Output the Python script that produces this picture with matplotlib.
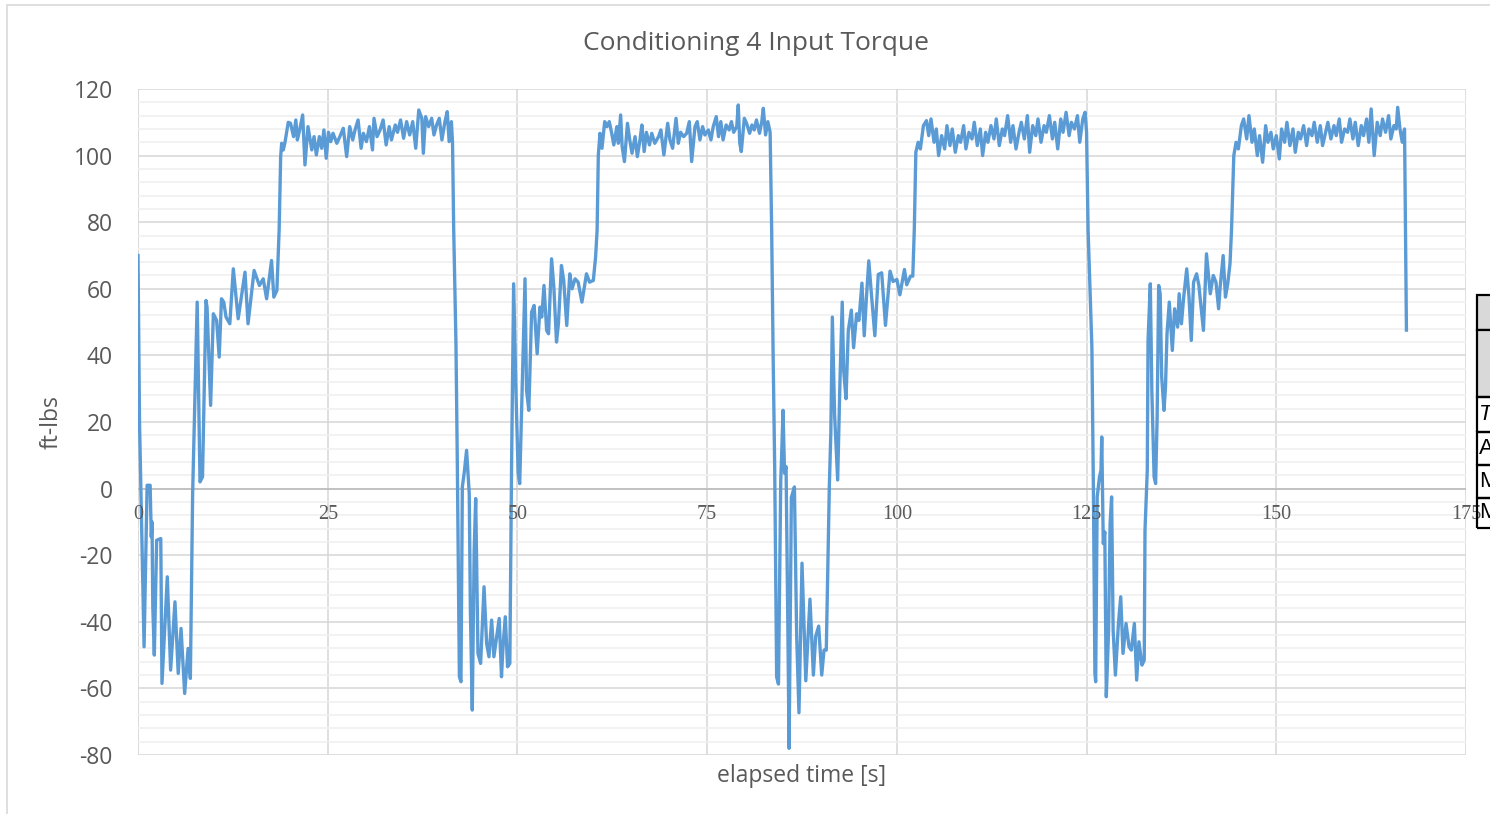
import matplotlib.pyplot as plt
from matplotlib.patches import Rectangle
from matplotlib.ticker import MultipleLocator

# logged input torque, one row per sample: elapsed time [s] and torque [ft-lbs]
elapsed_s = [
    # cycle 1: release, reverse swing, partial load
    0.0, 0.2, 0.8, 1.2, 1.6, 1.75, 1.85, 1.95, 2.15, 2.46, 3.0, 3.16, 3.86, 4.3, 4.87,
    5.3, 5.67, 6.15, 6.6, 6.9, 7.2, 7.5, 7.8, 8.17, 8.5, 8.96, 9.1, 9.57, 9.93, 10.36,
    10.7, 11.0, 11.3, 11.6, 12.1, 12.56, 13.2, 14.1, 14.5, 15.3, 16.0, 16.5, 16.95,
    17.6, 17.9, 18.3, 18.6,
    # cycle 1: full load
    18.8, 18.93, 19.15, 19.37, 19.8, 20.1, 20.5, 20.8, 21.0, 21.3, 21.7, 22.0, 22.4,
    22.9, 23.2, 23.5, 23.9, 24.2, 24.5, 24.8, 25.1, 25.4, 25.7, 26.2, 26.6, 27.05,
    27.5, 27.9, 28.3, 28.6, 29.0, 29.4, 29.7, 30.1, 30.5, 30.9, 31.1, 31.5, 31.9,
    32.3, 32.7, 33.1, 33.4, 33.9, 34.2, 34.6, 35.0, 35.4, 35.8, 36.2, 36.6, 37.0,
    37.4, 37.6, 37.9, 38.3, 38.7, 39.0, 39.35, 39.7, 40.05, 40.45, 40.75, 41.0,
    41.3, 41.45,
    # cycle 2: release, reverse swing, partial load
    41.6, 41.9, 42.08, 42.35, 42.56, 42.74, 43.0, 43.3, 43.65, 43.8, 44.05, 44.3,
    44.5, 44.8, 45.15, 45.6, 45.94, 46.25, 46.6, 46.9, 47.26, 47.6, 47.9, 48.1, 48.4,
    48.7, 49.0, 49.23, 49.5, 49.8, 50.1, 50.3, 50.6, 51.0, 51.2, 51.5, 51.87, 52.2,
    52.6, 52.97, 53.2, 53.5, 53.85, 54.1, 54.5, 54.8, 55.15, 55.4, 55.8, 56.1, 56.5,
    56.9, 57.2, 57.6, 58.0, 58.5, 59.1, 59.5, 60.0, 60.3, 60.5,
    # cycle 2: full load
    60.66, 60.88, 61.14, 61.5, 61.8, 62.1, 62.4, 62.7, 63.1, 63.3, 63.6, 63.8, 64.1,
    64.5, 64.8, 65.1, 65.5, 65.8, 66.15, 66.4, 66.7, 67.0, 67.4, 67.7, 68.1, 68.6,
    68.9, 69.3, 69.8, 70.1, 70.45, 70.9, 71.2, 71.5, 71.9, 72.3, 72.65, 72.96, 73.4,
    73.7, 74.05, 74.4, 74.7, 75.15, 75.5, 75.8, 76.2, 76.5, 76.8, 77.1, 77.5, 77.9,
    78.2, 78.5, 78.9, 79.1, 79.3, 79.5, 79.9, 80.2, 80.6, 80.9, 81.2, 81.5, 81.9,
    82.2, 82.4, 82.7, 83.0, 83.3,
    # cycle 3: release, reverse swing, partial load
    83.5, 83.7, 83.9, 84.16, 84.4, 84.7, 84.8, 85.0, 85.2, 85.4, 85.6, 85.8, 86.1,
    86.5, 86.8, 87.1, 87.5, 88.0, 88.55, 89.0, 89.3, 89.7, 90.1, 90.4, 90.7, 91.1,
    91.3, 91.5, 91.8, 92.2, 92.5, 92.8, 93.0, 93.3, 93.6, 94.0, 94.3, 94.7, 95.0,
    95.4, 95.7, 96.0, 96.3, 96.6, 97.1, 97.55, 98.0, 98.5, 99.1, 99.5, 100.0, 100.4,
    101.0, 101.3, 101.8, 102.1, 102.3,
    # cycle 3: full load
    102.5, 102.8, 103.1, 103.5, 103.9, 104.2, 104.5, 104.9, 105.2, 105.5, 105.9,
    106.3, 106.6, 107.0, 107.3, 107.7, 108.1, 108.4, 108.8, 109.1, 109.5, 109.9,
    110.2, 110.6, 111.0, 111.3, 111.7, 112.0, 112.4, 112.8, 113.1, 113.5, 113.9,
    114.2, 114.6, 115.0, 115.3, 115.7, 116.1, 116.4, 116.8, 117.2, 117.5, 117.9,
    118.3, 118.6, 119.0, 119.4, 119.7, 120.1, 120.5, 120.8, 121.2, 121.6, 121.9,
    122.3, 122.7, 123.0, 123.4, 123.8, 124.1, 124.5, 124.8, 125.0,
    # cycle 4: release, reverse swing, partial load
    125.2, 125.7, 125.9, 126.1, 126.2, 126.4, 126.7, 126.9, 127.0, 127.2, 127.4,
    127.6, 127.9, 128.1, 128.3, 128.5, 128.8, 129.2, 129.5, 129.8, 130.2, 130.6,
    130.9, 131.3, 131.6, 131.9, 132.3, 132.6, 132.7, 133.0, 133.1, 133.4, 133.6,
    133.9, 134.1, 134.3, 134.5, 134.7, 134.9, 135.2, 135.4, 135.6, 135.9, 136.3,
    136.6, 137.0, 137.2, 137.5, 137.8, 138.2, 138.5, 138.8, 139.1, 139.5, 139.8,
    140.4, 140.8, 141.3, 141.7, 142.05, 142.4, 142.6, 143.0, 143.3, 143.6, 143.9,
    144.1,
    # cycle 4: full load, then logging stops
    144.4, 144.7, 145.0, 145.4, 145.7, 146.1, 146.4, 146.8, 147.1, 147.5, 147.8,
    148.2, 148.6, 148.9, 149.3, 149.6, 150.0, 150.4, 150.7, 151.1, 151.4, 151.8,
    152.2, 152.5, 152.9, 153.2, 153.6, 154.0, 154.3, 154.7, 155.0, 155.4, 155.8,
    156.1, 156.5, 156.8, 157.2, 157.6, 157.9, 158.3, 158.6, 159.0, 159.4, 159.7,
    160.1, 160.4, 160.8, 161.2, 161.5, 161.9, 162.2, 162.5, 162.9, 163.3, 163.7,
    164.0, 164.4, 164.8, 165.1, 165.5, 165.8, 166.0, 166.3, 166.6, 166.9, 167.15,
]

torque_ftlb = [
    # cycle 1: release, reverse swing, partial load
    70, 20, -47.5, 1, 1, -14.5, -10, -35.5, -50, -15.5, -15, -58.5, -26.5, -54.5, -34,
    -55.5, -42, -61.5, -48, -57, -1.5, 27.5, 56, 2, 3.5, 56.5, 54.5, 25, 52.5, 50.5,
    39.5, 57, 56, 51.5, 49.5, 66, 51, 65, 49.5, 65.5, 61, 63, 57,
    68.5, 57.5, 59.5, 77.7,
    # cycle 1: full load
    99.7, 103.7, 101.7, 104, 110, 109.7, 105.7, 110.7, 104.7, 107.7, 112.2, 97.2, 108.7,
    101.7, 105.7, 100.2, 105.7, 102.2, 107.7, 99.2, 107, 104.2, 106.7, 103.7, 105.7, 108.2,
    99.7, 108.7, 104.7, 107.7, 110.7, 102.2, 106.7, 104.2, 108.7, 101.7, 111.2, 105.7, 107.7,
    110.7, 103.2, 108.7, 104.7, 109.2, 107, 110.7, 105.2, 110.2, 106.2, 110.2, 102.2, 113.7,
    111.2, 100.7, 111.7, 108.7, 111.2, 106.2, 109.2, 111.2, 104.7, 110.2, 113.2, 104.2,
    110.2, 103.7,
    # cycle 2: release, reverse swing, partial load
    78, 43.5, 7.5, -56.5, -58, 0.5, 5, 11.5, -1.5, -36.5, -66.5, -18.5,
    -3, -49.5, -52.5, -29.5, -46.5, -50.5, -39.5, -50.5, -44.5, -39, -56.5, -47.5, -38.5,
    -53.5, -52.5, 7.5, 61.5, 29.5, 4.5, 1.5, 27.5, 63, 29.5, 23.5, 53, 55,
    40.5, 54.5, 51.5, 61, 47.5, 46.5, 69, 60.5, 44, 49.5, 67, 62.5, 49,
    64.5, 60, 63, 62, 56, 64.5, 62, 62.5, 69.5, 77.6,
    # cycle 2: full load
    100.2, 106.7, 102.2, 110.2, 108.7, 110.2, 107, 103.2, 108.7, 103.7, 112.2, 102.7, 98.2,
    109.7, 104.7, 100.7, 105.7, 99.7, 104.7, 109.2, 101.2, 107, 103.2, 106.7, 103.7, 105.7,
    107.7, 100.2, 109.7, 104.7, 102.2, 111.2, 103.7, 107, 105.7, 106.7, 110.2, 98.2, 108.7,
    110.2, 104.7, 108.7, 106.2, 107.7, 104.7, 108.7, 111.7, 105.7, 110.2, 104.7, 109.2, 107.7,
    110.2, 107, 108.7, 115.2, 103.7, 101.2, 111.2, 109.7, 106.7, 109.2, 107.7, 110.7, 106.7,
    110.2, 114.2, 106.2, 110.2, 107,
    # cycle 3: release, reverse swing, partial load
    78, 39.3, 6.6, -56.6, -58.7, 2.6, 8.7, 23.5, 4.6, 6.6, -34, -78, -2.6,
    0.5, -44.4, -67.3, -22.4, -57.7, -33.2, -56, -44.4, -41.3, -56, -48.5, -48.5, 0.5,
    16.8, 51.5, 21.9, 2.6, 32, 56, 35.2, 27, 47.4, 53.6, 42.3, 52.5, 50.5,
    61.7, 45.9, 57.7, 68.4, 59.7, 45.9, 64.3, 64.8, 49, 65.3, 62.2, 62.8, 58.2,
    65.8, 61.2, 63.8, 63.8, 78,
    # cycle 3: full load
    101, 104, 102, 109, 110.5, 106, 111, 104, 108, 100, 106,
    102, 109, 103, 108, 101, 106, 104, 109, 102, 107, 105,
    110, 103, 108, 100, 107, 104, 109, 105, 111, 103, 108,
    106, 112, 104, 109, 102, 107, 110, 105, 112, 101, 109,
    106, 111, 104, 109, 107, 112, 105, 110, 102, 111, 107,
    113, 106, 110, 108, 112, 104, 111, 113, 107,
    # cycle 4: release, reverse swing, partial load
    77.6, 42.5, -0.5, -55.5, -58, -2.5, 3.5, 5.5, 15.5, -16.5, -13,
    -62.5, -42.5, -10.5, -2.5, -42.5, -56, -40.5, -32.5, -49.5, -40.5, -47.5,
    -48.5, -40.5, -57.5, -46, -53, -51.5, -12.5, 5.5, 44.5, 61.5, 29.5,
    3.5, 1.5, 21.5, 61, 58.5, 33.5, 23.5, 30.5, 46.5, 56, 41.5,
    54, 48.5, 58.5, 49.5, 57.5, 66, 57.5, 44.5, 62, 64.5, 61,
    47.5, 70.5, 58.5, 64, 62, 54, 60.5, 70, 57.5, 61.5, 67.5,
    77.6,
    # cycle 4: full load, then logging stops
    100, 104, 102, 109, 111, 105, 112, 104, 108, 100, 106,
    98, 109, 104, 107, 102, 106, 99, 108, 104, 110, 103,
    108, 101, 107, 105, 109, 103, 108, 106, 110, 104, 109,
    103, 107, 110, 105, 109, 106, 111, 104, 108, 107, 111,
    105, 110, 103, 109, 106, 111, 104, 114, 100, 110, 106,
    111, 107, 112, 105, 109, 108, 114.5, 108, 104, 108, 47.6,
]

x_ticks = [0, 25, 50, 75, 100, 125, 150, 175]
y_ticks = [-80, -60, -40, -20, 0, 20, 40, 60, 80, 100, 120]

# partly visible summary table next to the chart
table_rows = ["", "", "Total", "Average", "Max", "Min"]
table_row_edges = [295, 330, 397, 432, 465, 498, 528]   # pixel rows, top to bottom

W, H = 1490, 814
text_grey = "#595959"
line_blue = "#5B9BD5"

fig = plt.figure(figsize=(W / 100, H / 100), dpi=100)
fig.patch.set_facecolor("white")

# chart frame
fig.add_artist(Rectangle((7 / W, -0.1), 1.2, 1 - 5 / H + 0.1, transform=fig.transFigure,
                         fill=False, edgecolor="#d9d9d9", lw=1.2))

ax = fig.add_axes([138 / W, 1 - 755 / H, 1328 / W, 666 / H])
ax.plot(elapsed_s, torque_ftlb, color=line_blue, lw=2.4, solid_joinstyle="round", zorder=3)

ax.set_xlim(0, 175)
ax.set_ylim(-80, 120)
ax.set_xticks(x_ticks)
ax.set_xticklabels([])
ax.set_yticks(y_ticks)
ax.set_yticklabels([str(v) for v in y_ticks], fontfamily="Open Sans", fontsize=16.5, color=text_grey)
ax.yaxis.set_minor_locator(MultipleLocator(4))
ax.tick_params(axis="both", which="both", length=0)
ax.tick_params(axis="y", pad=18)

ax.grid(axis="y", which="minor", color="#f0f0f0", lw=1.2, zorder=0)
ax.grid(axis="y", which="major", color="#d9d9d9", lw=1.2, zorder=1)
ax.grid(axis="x", which="major", color="#d9d9d9", lw=1.2, zorder=1)
ax.axhline(0, color="#bfbfbf", lw=1.3, zorder=2)
for side in ax.spines.values():
    side.set_visible(False)
ax.axvline(0, color="#d9d9d9", lw=1.2, zorder=1)

# category labels sit just under the zero line
for v in x_ticks:
    ax.annotate(str(v), xy=(v, 0), xytext=(0, -18.5), textcoords="offset points",
                ha="center", va="center", fontsize=14.5, fontfamily="Liberation Serif",
                color=text_grey, annotation_clip=False)

fig.text(756 / W, 1 - 43 / H, "Conditioning 4 Input Torque", ha="center", va="center",
         fontsize=19, fontfamily="Open Sans", color=text_grey)
fig.text(802 / W, 1 - 776 / H, "elapsed time [s]", ha="center", va="center",
         fontsize=16.5, fontfamily="Open Sans", color=text_grey)
fig.text(52 / W, 1 - 422 / H, "ft-lbs", ha="center", va="center", rotation=90,
         fontsize=16.5, fontfamily="Open Sans", color=text_grey)

# table cells
x0 = 1477
for i, label in enumerate(table_rows):
    top, bot = table_row_edges[i], table_row_edges[i + 1]
    fill = "#d9d9d9" if i < 2 else "none"
    fig.add_artist(Rectangle((x0 / W, 1 - bot / H), 0.2, (bot - top) / H,
                             transform=fig.transFigure, facecolor=fill,
                             edgecolor="black", lw=1.6, zorder=5))
    if label:
        fig.text((x0 + 2) / W, 1 - (top + bot) / 2 / H, label, ha="left", va="center",
                 fontsize=16, fontfamily="Liberation Sans", color="black",
                 style="italic" if i == 2 else "normal", zorder=6)

fig.savefig("out.png", dpi=100)
